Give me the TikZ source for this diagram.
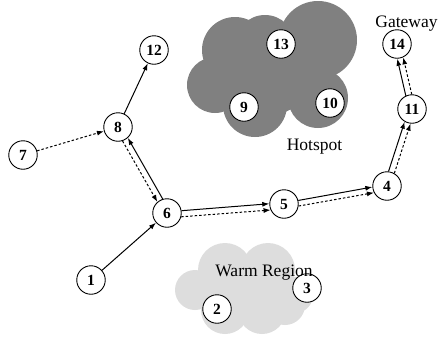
\documentclass[tikz,border=0pt]{standalone}
\usepackage{fontspec}
\setmainfont{Liberation Serif}
\usetikzlibrary{arrows.meta}
\begin{document}
\begin{tikzpicture}[x=1pt,y=-1pt,
  nd/.style={circle,draw,fill=white,line width=0.9pt,minimum size=28.5pt,inner sep=0pt,
    font=\fontsize{15.5}{15.5}\selectfont\bfseries},
  lab/.style={font=\fontsize{17.5}{17.5}\selectfont,inner sep=0pt,anchor=base},
  sol/.style={line width=1pt,-{Latex[length=7pt,width=5pt]}},
  dotl/.style={line width=1pt,dash pattern=on 2.5pt off 2pt,-{Latex[length=7pt,width=5pt]}},
  hot/.style={fill=gray},
  warm/.style={fill=gray!27}
]
\useasboundingbox (0,0) rectangle (438,341);
% hotspot cloud
\begin{scope}
\fill[hot] (318,40) circle[radius=39pt];
\fill[hot] (235,50) circle[radius=33pt];
\fill[hot] (265,45) circle[radius=30pt];
\fill[hot] (215,85) circle[radius=28pt];
\fill[hot] (255,105) circle[radius=32pt];
\fill[hot] (318,98) circle[radius=30pt];
\fill[hot] (270,75) circle[radius=40pt];
\end{scope}
% warm region cloud
\fill[warm] (195,290) circle[radius=20pt];
\fill[warm] (225,270) circle[radius=27pt];
\fill[warm] (268,270) circle[radius=27pt];
\fill[warm] (295,295) circle[radius=18pt];
\fill[warm] (225,310) circle[radius=24pt];
\fill[warm] (262,310) circle[radius=24pt];
\fill[warm] (285,305) circle[radius=20pt];
\fill[warm] (245,290) circle[radius=30pt];
% nodes
\node[nd] (n1) at (91,280) {1};
\node[nd] (n2) at (217,309) {2};
\node[nd] (n3) at (307,288) {3};
\node[nd] (n4) at (387,186) {4};
\node[nd] (n5) at (284,204) {5};
\node[nd] (n6) at (167,213) {6};
\node[nd] (n7) at (23,155) {7};
\node[nd] (n8) at (118,127) {8};
\node[nd] (n9) at (244,107) {9};
\node[nd] (n10) at (330,103) {10};
\node[nd] (n11) at (412,109) {11};
\node[nd] (n12) at (154,50) {12};
\node[nd] (n13) at (281,44) {13};
\node[nd] (n14) at (397,44) {14};
% edges
\draw[sol] (n1) -- (n6);
\draw[dotl] (n7) -- (n8);
\draw[sol] (n8) -- (n12);
\draw[sol] (n6.107.7) -- (n8.-48.3);
\draw[dotl] (n8.-72.3) -- (n6.131.7);
\draw[sol] (n6.9.4) -- (n5.179.4);
\draw[dotl] (n6.-15.6) -- (n5.204.4);
\draw[sol] (n5.14.9) -- (n4.184.9);
\draw[dotl] (n5.-8.1) -- (n4.207.9);
\draw[sol] (n4.84) -- (n11.240);
\draw[dotl] (n4.60) -- (n11.264);
\draw[sol] (n11.115) -- (n14.271);
\draw[dotl] (n11.91) -- (n14.295);
% labels
\node[lab] (gw) at (406.5,27) {Gateway};
\node[lab] (hs) at (314.5,150) {Hotspot};
\node[lab] (wr) at (264,276.5) {Warm Region};
\end{tikzpicture}
\end{document}
